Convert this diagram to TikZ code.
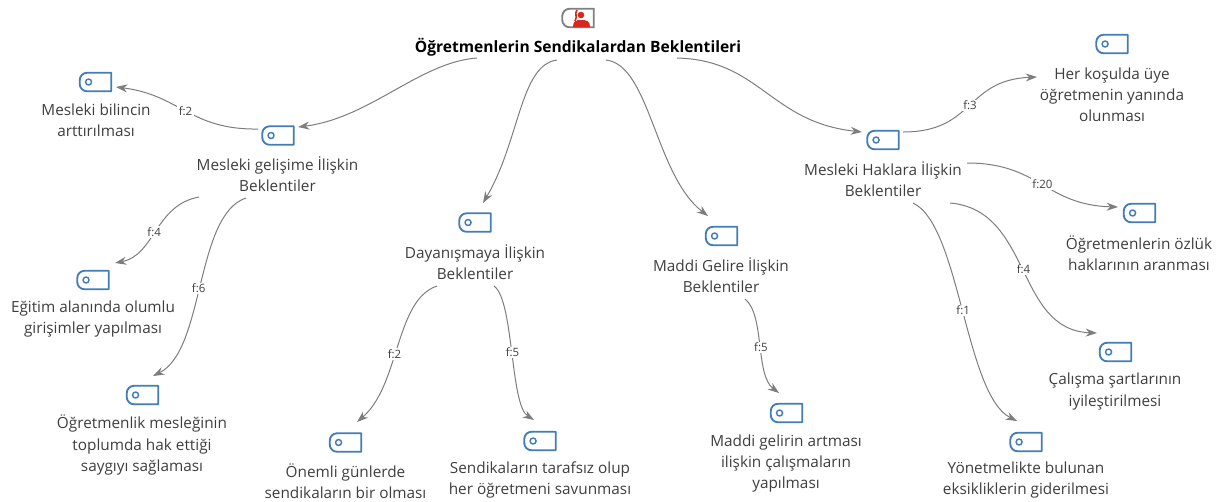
\documentclass[tikz,border=0pt]{standalone}
\usepackage{fontspec}
\setmainfont{Open Sans}
\usetikzlibrary{arrows.meta}
\definecolor{tagblue}{RGB}{66,125,184}
\definecolor{linkgray}{RGB}{125,125,125}
\definecolor{textgray}{RGB}{62,62,62}
\definecolor{rootred}{RGB}{214,40,30}
\tikzset{
  tagbox/.style={inner sep=0pt,minimum width=23.25pt,minimum height=13.5pt},
  tagline/.style={color=tagblue,line width=1.4pt,line join=round},
  concept/.style={align=center,text=textgray,font=\fontsize{11.5}{15.8}\selectfont,inner sep=0.75pt},
  link/.style={color=linkgray,line width=0.75pt,-{Stealth[length=8.5pt,width=6pt]}},
  freq/.style={fill=white,text=textgray,font=\fontsize{8.6}{10}\selectfont,inner sep=1pt}
}
% tag icon: name, position, colour style
\newcommand{\tagicon}[3][tagline]{
  \node [tagbox] (#2) at (#3) {};
  \draw [#1,rounded corners=5.5pt] (#2.north east) [sharp corners] -- (#2.south east) [rounded corners=5.5pt] -- (#2.south west) -- (#2.north west) [sharp corners] -- cycle;
}
\begin{document}
\begin{tikzpicture}[x=0.75pt,y=0.75pt,yscale=-1,xscale=1]
\useasboundingbox (0,0) rectangle (1216,501);

% Tag Icons
\tagicon[color=gray,line width=1.4pt]{rooticon}{578,18}
\fill [rootred] (581,15) circle (3.3) (573,27) .. controls (573,21) and (576,20) .. (581,20) .. controls (587,20) and (590,21) .. (590,27) -- cycle;
\draw [rootred,line width=1.2pt] (577,10) .. controls (574,14) and (578,16) .. (575,21);
\tagicon{bilinc}{95.5,82}
\tagicon{gelisim}{278,135.5}
\tagicon{egitim}{93,280}
\tagicon{saygi}{142.5,395}
\tagicon{dayanisma}{475,222.5}
\tagicon{gunler}{345.5,442.5}
\tagicon{tarafsiz}{540,441}
\tagicon{gelire}{721.5,236}
\tagicon{gelirin}{786.5,413}
\tagicon{haklar}{883,140}
\tagicon{kosul}{1112,44}
\tagicon{ozluk}{1139.5,213}
\tagicon{sart}{1115.5,352}
\tagicon{yonet}{1026,442}
\foreach \tagname in {bilinc,gelisim,egitim,saygi,dayanisma,gunler,tarafsiz,gelire,gelirin,haklar,kosul,ozluk,sart,yonet}
  \draw [tagline,line width=1.1pt] ([xshift=-5.2pt]\tagname.center) circle (3);

% Text Node
\node [concept,text=black,font=\fontsize{11.7}{15}\selectfont\bfseries] (roottext) at (578,47) {Öğretmenlerin Sendikalardan Beklentileri};
\node [concept] (bilinctext) at (96,120.5) {Mesleki bilincin\\arttırılması};
\node [concept] (gelisimtext) at (277.5,174) {Mesleki gelişime İlişkin\\Beklentiler};
\node [concept] (egitimtext) at (93,319) {Eğitim alanında olumlu\\girişimler yapılması};
\node [concept] (saygitext) at (142,445) {Öğretmenlik mesleğinin\\toplumda hak ettiği\\saygıyı sağlaması};
\node [concept] (dayanismatext) at (475,262) {Dayanışmaya İlişkin\\Beklentiler};
\node [concept] (gunlertext) at (345.5,481) {Önemli günlerde\\sendikaların bir olması};
\node [concept] (tarafsiztext) at (540,479.5) {Sendikaların tarafsız olup\\her öğretmeni savunması};
\node [concept] (geliretext) at (721,275) {Maddi Gelire İlişkin\\Beklentiler};
\node [concept] (gelirintext) at (786,463.5) {Maddi gelirin artması\\ilişkin çalışmaların\\yapılması};
\node [concept] (haklartext) at (883,179.5) {Mesleki Haklara İlişkin\\Beklentiler};
\node [concept] (kosultext) at (1112,95) {Her koşulda üye\\öğretmenin yanında\\olunması};
\node [concept] (ozluktext) at (1139,253.5) {Öğretmenlerin özlük\\haklarının aranması};
\node [concept] (sarttext) at (1115,391.5) {Çalışma şartlarının\\iyileştirilmesi};
\node [concept] (yonettext) at (1026,480) {Yönetmelikte bulunan\\eksikliklerin giderilmesi};

%Curve Lines
\draw [link] ([shift={(-101,11)}]roottext.center) .. controls (420,62) and (370,118) .. ([shift={(20,-8.5)}]gelisim.center);
\draw [link] ([shift={(-21,13)}]roottext.center) .. controls (520,65) and (520,140) .. ([shift={(8,-19.5)}]dayanisma.center);
\draw [link] ([shift={(28,13)}]roottext.center) .. controls (650,65) and (655,175) .. ([shift={(-13.5,-20)}]gelire.center);
\draw [link] ([shift={(99,11)}]roottext.center) .. controls (760,60) and (770,122) .. ([shift={(-21,-8)}]haklar.center);
\draw [link] ([shift={(-20,-6.5)}]gelisim.center) .. controls (190,130) and (180,95) .. ([shift={(20.5,5)}]bilinc.center) node [freq,pos=0.5] (gelisimf) {f:2};
\draw [link] ([shift={(-78.5,23)}]gelisimtext.center) .. controls (155,205) and (155,255) .. ([shift={(22,-17)}]egitim.center) node [freq,pos=0.52] (egitimf) {f:4};
\draw [link] ([shift={(-31.5,24)}]gelisimtext.center) .. controls (195,215) and (205,350) .. ([shift={(10.5,-19)}]saygi.center) node [freq,pos=0.52] (saygif) {f:6};
\draw [link] ([shift={(-38,24)}]dayanismatext.center) .. controls (395,300) and (400,385) .. ([shift={(11.5,-20.5)}]gunler.center) node [freq,pos=0.55] (gunlerf) {f:2};
\draw [link] ([shift={(19,24)}]dayanismatext.center) .. controls (514,300) and (510,405) .. ([shift={(-6,-21)}]tarafsiz.center) node [freq,pos=0.5] (tarafsizf) {f:5};
\draw [link] ([shift={(24,24)}]geliretext.center) .. controls (765,315) and (755,375) .. ([shift={(-7.5,-20)}]gelirin.center) node [freq,pos=0.52] (gelirinf) {f:5};
\draw [link] ([shift={(20,-8)}]haklar.center) .. controls (975,132) and (965,80) .. ([shift={(-75,33)}]kosul.center) node [freq,pos=0.5] (kosulf) {f:3};
\draw [link] ([shift={(84,-16.5)}]haklartext.center) .. controls (1040,163) and (1045,205) .. ([shift={(-21.5,-6)}]ozluk.center) node [freq,pos=0.5] (ozlukf) {f:20};
\draw [link] ([shift={(67,23.5)}]haklartext.center) .. controls (1032,210) and (1015,330) .. ([shift={(-18.5,-19)}]sart.center) node [freq,pos=0.5] (sartf) {f:4};
\draw [link] ([shift={(30,23.5)}]haklartext.center) .. controls (960,225) and (965,395) .. ([shift={(-9,-21)}]yonet.center) node [freq,pos=0.5] (yonetf) {f:1};

\end{tikzpicture}
\end{document}
